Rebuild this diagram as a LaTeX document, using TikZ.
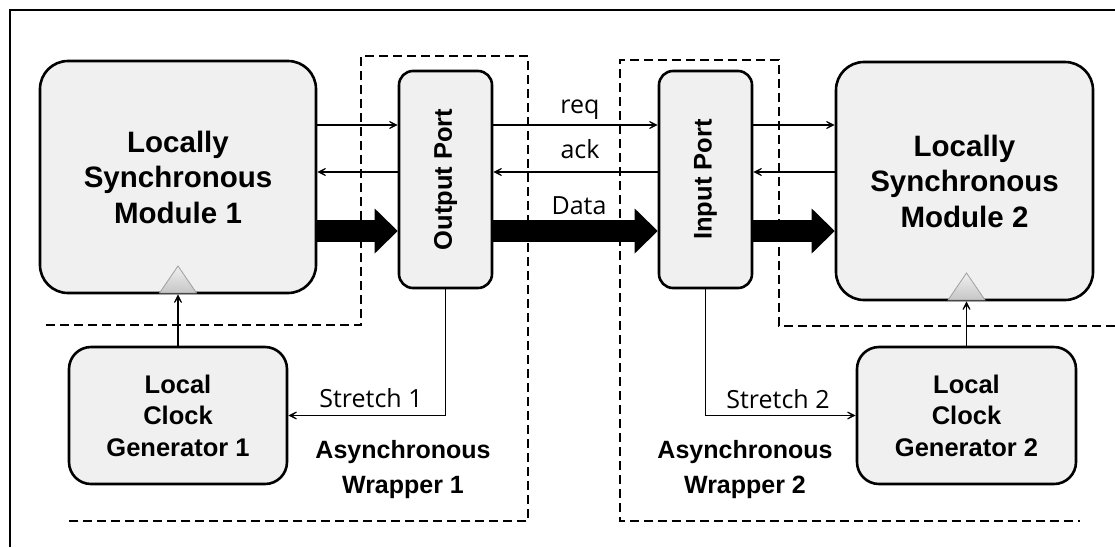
\documentclass[tikz,border=0pt]{standalone}
\usepackage{fontspec}
\setmainfont{Liberation Sans}
\newfontfamily\sigfont{Open Sans}
\usetikzlibrary{arrows.meta,calc}

\definecolor{boxgray}{HTML}{F0F0F0}

\tikzset{
  box/.style={draw, line width=2.6pt, fill=boxgray, inner sep=0pt, align=center,
    font=\bfseries\fontsize{25.5}{31.5}\selectfont},
  module/.style={box, rounded corners=28pt, font=\bfseries\fontsize{29.5}{35.5}\selectfont},
  port/.style={box, rounded corners=14pt, minimum width=93pt, minimum height=217pt},
  clockgen/.style={box, rounded corners=22pt, minimum width=218pt, minimum height=137pt},
  sigline/.style={line width=1.7pt, -{Stealth[length=14pt,width=14pt,inset=10pt]}},
  databus/.style={line width=22pt, -{Triangle[length=23pt,width=45pt,line width=0pt]}},
  wrap/.style={line width=1.8pt, dash pattern=on 9pt off 5pt},
  siglabel/.style={font=\sigfont\fontsize{25}{29}\selectfont, inner sep=0pt, anchor=base},
  wraplabel/.style={align=center, inner sep=0pt, font=\bfseries\fontsize{25}{35}\selectfont},
  clktri/.style={draw=gray!75, line width=0.8pt, top color=gray!12, bottom color=gray!45}
}

\begin{document}
\begin{tikzpicture}[x=1pt,y=-1pt]
  \useasboundingbox (0,0) rectangle (1115,547);
  % frame
  \draw[line width=2.4pt] (10,547) -- (10,10) -- (1115,10);

  % wrapper outlines
  \draw[wrap] (46,325) -- (361,325) -- (361,56) -- (528,56) -- (528,521) -- (66,521);
  \draw[wrap] (1115,326) -- (779,326) -- (779,60) -- (620,60) -- (620,521) -- (1080,521);

  % blocks
  \node[module, minimum width=276pt, minimum height=232pt] (lsm1) at (178,177) {Locally\\Synchronous\\Module 1};
  \node[module, minimum width=257pt, minimum height=238pt] (lsm2) at (964.5,181) {Locally\\Synchronous\\Module 2};
  \node[port] (outp) at (445.5,179.5) {\rotatebox{90}{Output Port}};
  \node[port] (inp) at (705.5,179.5) {\rotatebox{90}{Input Port}};
  \node[clockgen] (lcg1) at (178,415.5) {Local\\Clock\\Generator 1};
  \node[clockgen, minimum width=219pt] (lcg2) at (966.5,415.5) {Local\\Clock\\Generator 2};

  \node[wraplabel] (aw1) at (403,470) {Asynchronous\\Wrapper 1};
  \node[wraplabel] (aw2) at (745,470) {Asynchronous\\Wrapper 2};

  % handshake rows
  \coordinate (reqrow) at (0,125);
  \coordinate (ackrow) at (0,172);
  \coordinate (datarow) at (0,231);
  \foreach \a/\b in {lsm1/outp, outp/inp, inp/lsm2} {
    \draw[sigline] (\a.east |- reqrow) -- (\b.west |- reqrow);
    \draw[sigline] (\b.west |- ackrow) -- (\a.east |- ackrow);
    \draw[databus] (\a.east |- datarow) -- (\b.west |- datarow);
  }
  \node[siglabel] (reqlbl) at (580,113) {req};
  \node[siglabel] (acklbl) at (580,158) {ack};
  \node[siglabel] (datalbl) at (579,214) {Data};

  % clocks
  \path[clktri] ($(lsm1.south)+(-18.5,-1.3)$) -- ++(18.5,-27) -- ++(18.5,27) -- cycle;
  \path[clktri] ($(lcg2.north |- lsm2.south)+(-18.5,-1.3)$) -- ++(18.5,-27) -- ++(18.5,27) -- cycle;
  \draw[sigline] (lcg1.north) -- (lsm1.south);
  \draw[sigline] (lcg2.north) -- (lcg2.north |- lsm2.south);

  % stretch
  \draw[sigline] (outp.south) |- (lcg1.east);
  \draw[sigline] (inp.south) |- (lcg2.west);
  \node[siglabel] (st1lbl) at (371,407) {Stretch 1};
  \node[siglabel] (st2lbl) at (778,408) {Stretch 2};
\end{tikzpicture}
\end{document}
